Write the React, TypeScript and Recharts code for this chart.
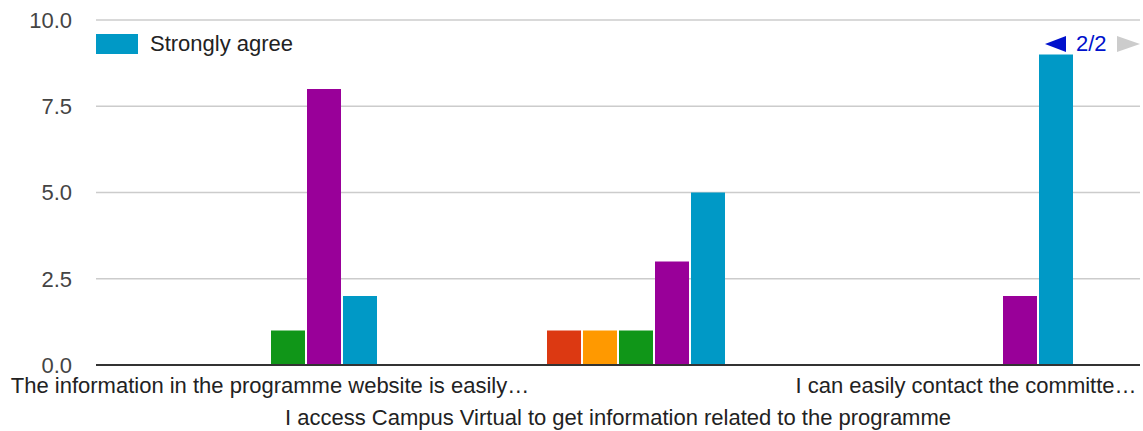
import React from 'react';
import { BarChart, Bar, XAxis, YAxis, CartesianGrid } from 'recharts';

const categories = [
  'The information in the programme website is easily…',
  'I access Campus Virtual to get information related to the programme',
  'I can easily contact the committe…',
];

const seriesNames = [
  'Not applicable',
  'Strongly disagree',
  'Disagree',
  'Neutral',
  'Agree',
  'Strongly agree',
];
const seriesColors = ['#3366cc', '#dc3912', '#ff9900', '#109618', '#990099', '#0099c6'];

const notApplicable = [0, 0, 0];
const stronglyDisagree = [0, 1, 0];
const disagree = [0, 1, 0];
const neutral = [1, 1, 0];
const agree = [8, 3, 2];
const stronglyAgree = [2, 5, 9];

const yTicks = [0, 2.5, 5, 7.5, 10];

const seriesValues = [notApplicable, stronglyDisagree, disagree, neutral, agree, stronglyAgree];

const data = categories.map((name, i) => {
  const row: Record<string, string | number> = { name };
  seriesNames.forEach((s, j) => {
    row[s] = seriesValues[j][i];
  });
  return row;
});

const FONT = 'Arial, "Liberation Sans", sans-serif';

function StaggeredTick(props: any) {
  const { x, y, payload, index } = props;
  const row = index % 2;
  return (
    <text
      x={x}
      y={y + 20 + row * 32}
      textAnchor="middle"
      fill="#222"
      fontSize={22}
      fontFamily={FONT}
    >
      {payload.value}
    </text>
  );
}

export default function App() {
  return (
    <div style={{ position: 'absolute', left: 0, top: 0, width: 1143, height: 431, background: '#fff', fontFamily: FONT }}>
      <BarChart
        width={1143}
        height={431}
        data={data}
        margin={{ top: 20, right: 3, bottom: 0, left: 0 }}
        barGap={2}
        barCategoryGap={67}
      >
        <CartesianGrid horizontal vertical={false} stroke="#cccccc" strokeWidth={1.5} />
        <YAxis
          width={96}
          domain={[0, 10]}
          ticks={yTicks}
          tickFormatter={(v: number) => v.toFixed(1)}
          axisLine={false}
          tickLine={false}
          tickMargin={18}
          tick={{ fill: '#444', fontSize: 22, fontFamily: FONT }}
        />
        <XAxis
          dataKey="name"
          height={66}
          axisLine={{ stroke: '#333', strokeWidth: 2 }}
          tickLine={false}
          interval={0}
          tick={<StaggeredTick />}
        />
        {seriesNames.map((s, j) => (
          <Bar key={s} dataKey={s} fill={seriesColors[j]} isAnimationActive={false} />
        ))}
      </BarChart>
      <div style={{ position: 'absolute', left: 96, top: 33, display: 'flex', alignItems: 'center', height: 21 }}>
        <div style={{ width: 42, height: 20, background: seriesColors[5] }} />
        <span style={{ marginLeft: 12, fontSize: 22, color: '#222' }}>{seriesNames[5]}</span>
      </div>
      <div style={{ position: 'absolute', left: 1045, top: 33, display: 'flex', alignItems: 'center', height: 22 }}>
        <svg width={21} height={16}>
          <polygon points="0,8 21,0 21,16" fill="#0011cc" />
        </svg>
        <span style={{ marginLeft: 10, fontSize: 22, color: '#0011cc' }}>2/2</span>
        <svg width={23} height={16} style={{ marginLeft: 10 }}>
          <polygon points="0,0 23,8 0,16" fill="#cccccc" />
        </svg>
      </div>
    </div>
  );
}
